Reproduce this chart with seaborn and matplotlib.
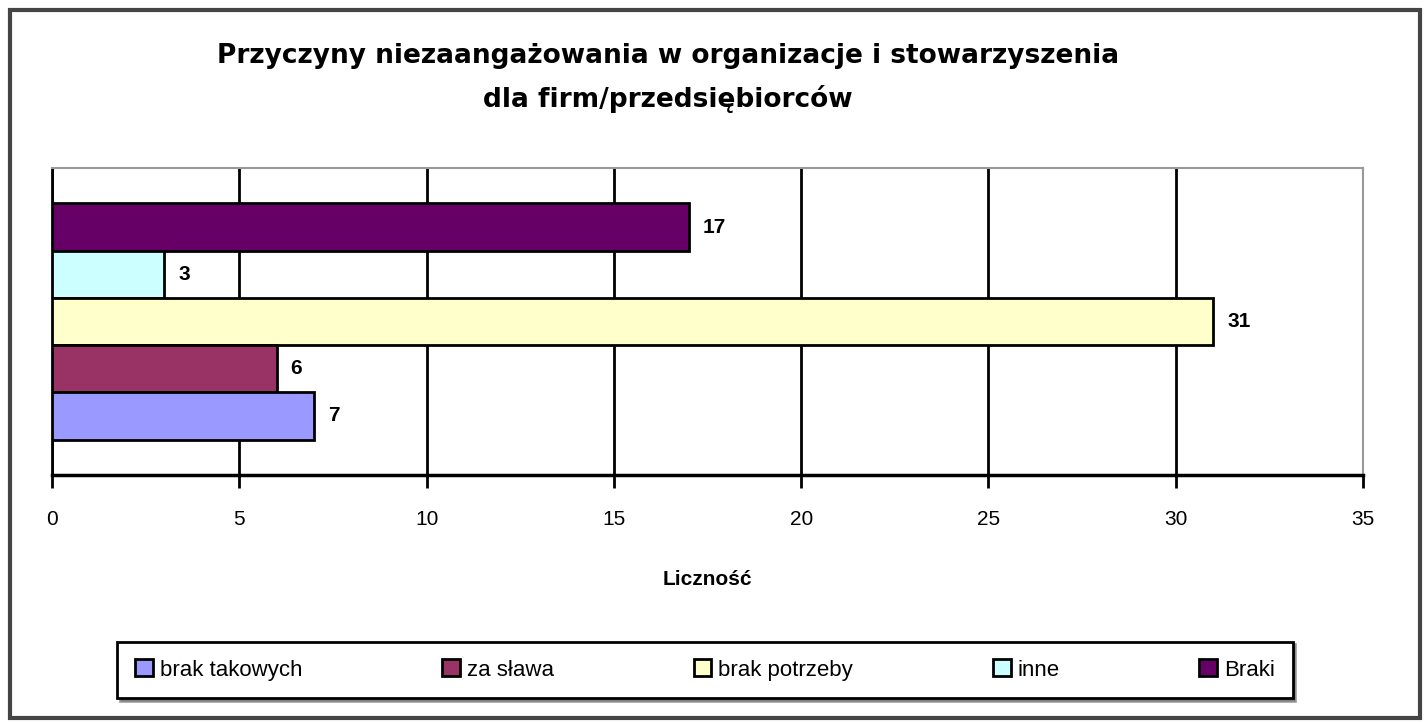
import matplotlib
matplotlib.use("Agg")
import matplotlib.pyplot as plt
import seaborn as sns
import pandas as pd
from matplotlib.patches import Rectangle, Patch

# Data
series = ["brak takowych", "za sława", "brak potrzeby", "inne", "Braki"]
values = [7, 6, 31, 3, 17]
colors = ["#9999FF", "#993366", "#FFFFCC", "#CCFFFF", "#660066"]
xticks = [0, 5, 10, 15, 20, 25, 30, 35]
title = "Przyczyny niezaangażowania w organizacje i stowarzyszenia\ndla firm/przedsiębiorców"
xlabel = "Liczność"

sns.set_theme(style="white")
plt.rcParams['font.family'] = ['Liberation Sans', 'DejaVu Sans']
plt.rcParams['text.color'] = 'black'
plt.rcParams['axes.labelcolor'] = 'black'
plt.rcParams['xtick.color'] = 'black'

df = pd.DataFrame({"series": series, "value": values, "cat": [""] * len(series)})
palette = dict(zip(series, colors))
hue_order = series[::-1]  # top to bottom: Braki ... brak takowych

fig = plt.figure(figsize=(14.26, 7.22), dpi=100)
ax = fig.add_axes([52/1426, 1-475/722, (1363-52)/1426, (475-168)/722])

sns.barplot(data=df, x="value", y="cat", hue="series", hue_order=hue_order,
            palette=palette, saturation=1, orient="h", width=0.8, edgecolor="black",
            linewidth=2, ax=ax, legend=False, zorder=3)

for c in ax.containers:
    ax.bar_label(c, padding=10, fontsize=15, fontweight="bold", color="black")

ax.set_xlim(0, 35)
ax.set_ylim(0.52, -0.52)
ax.set_xticks(xticks)
ax.set_xticklabels([str(t) for t in xticks], fontsize=15)
ax.set_yticks([])
ax.set_ylabel("")
ax.set_xlabel(xlabel, fontsize=15, fontweight="bold", labelpad=30)
ax.tick_params(axis="x", length=9, width=2, color="black", direction="out", pad=16, bottom=True)
for t in xticks:
    ax.axvline(t, color="black", lw=2, zorder=1)
ax.spines["left"].set_color("black"); ax.spines["left"].set_linewidth(2)
ax.spines["bottom"].set_color("black"); ax.spines["bottom"].set_linewidth(2.5)
ax.spines["top"].set_color("#999999"); ax.spines["top"].set_linewidth(1.5)
ax.spines["right"].set_color("#999999"); ax.spines["right"].set_linewidth(1.5)

fig.text(668/1426, 1-78/722, title, ha="center", va="center", fontsize=19,
         fontweight="bold", linespacing=1.7, family=['DejaVu Sans'])

# legend in original order
handles = [Patch(facecolor=palette[s], edgecolor="black", linewidth=2) for s in series]
leg = fig.legend(handles, series, loc="center", bbox_to_anchor=(705/1426, 1-670/722),
                 ncol=5, fontsize=16, frameon=True, fancybox=False, shadow=True,
                 handlelength=0.8, handleheight=0.8, columnspacing=6.3,
                 handletextpad=0.3, borderpad=0.8)
leg.get_frame().set_edgecolor("black")
leg.get_frame().set_linewidth(2)

# outer border
fig.patches.append(Rectangle((10/1426, 4/722), 1410/1426, 708/722, transform=fig.transFigure,
                             fill=False, edgecolor="#444444", linewidth=3))

fig.savefig("out.png", dpi=100)
